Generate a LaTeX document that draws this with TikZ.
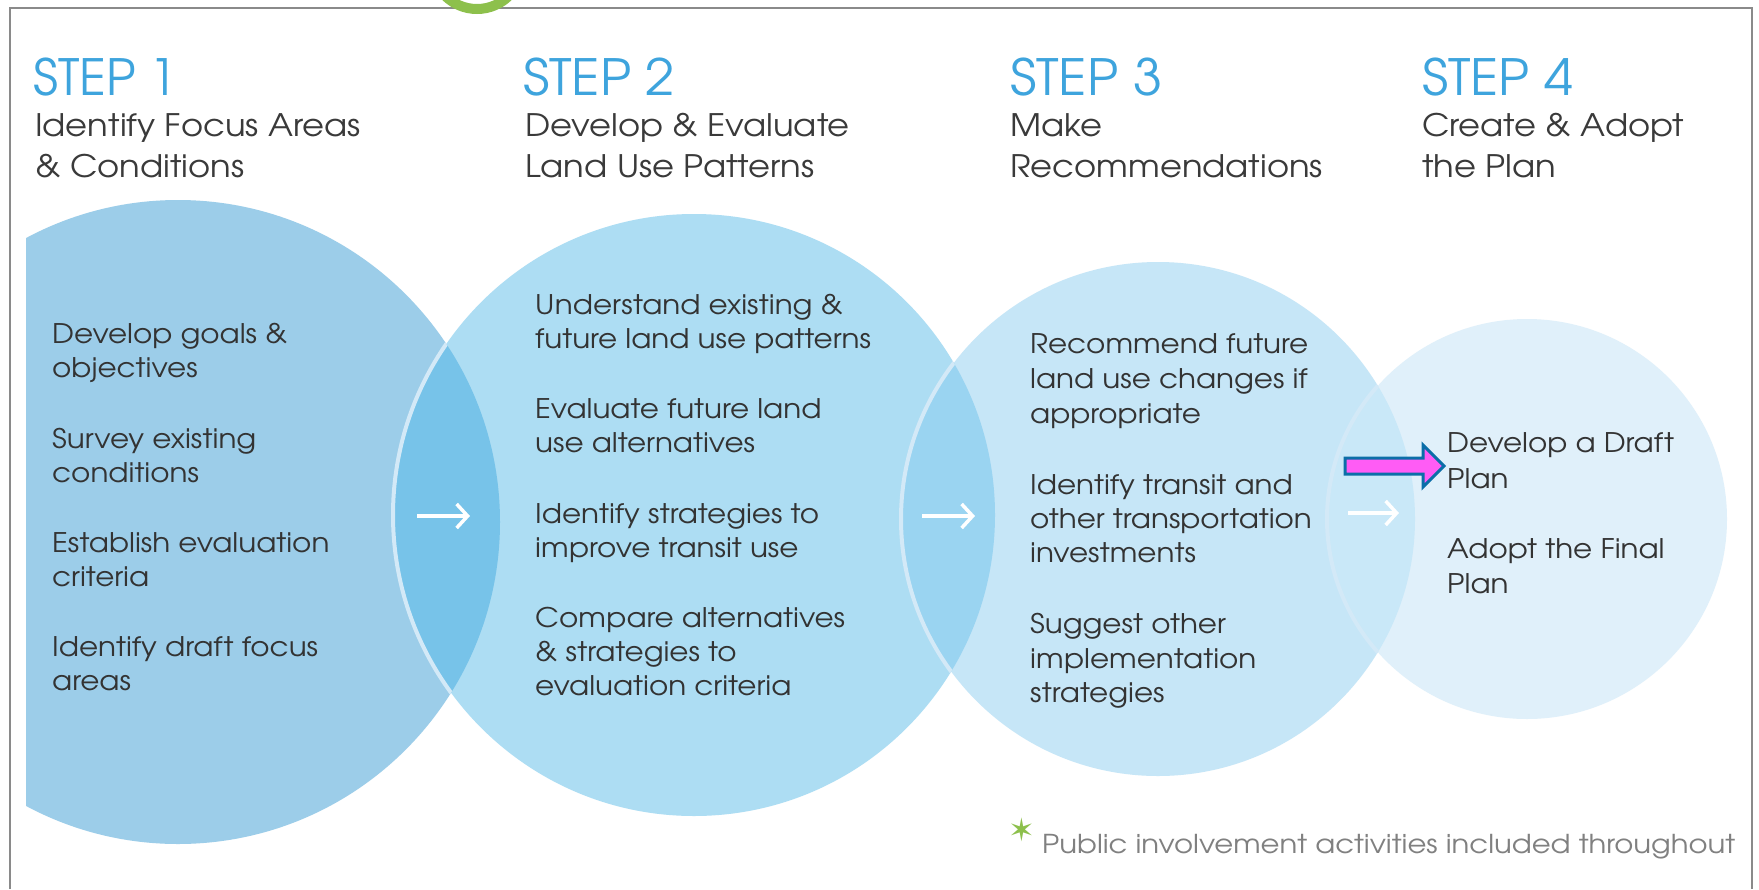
\documentclass[tikz,border=0pt]{standalone}
\usepackage{fontspec}
\usepackage{graphicx}
\usetikzlibrary{arrows.meta}
\IfFontExistsTF{TeX Gyre Adventor}
  {\setmainfont{TeX Gyre Adventor}\newfontfamily\widefont[FakeStretch=1.09]{TeX Gyre Adventor}}
  {\setmainfont{Poppins}\newfontfamily\widefont{Poppins}}
\newfontfamily\symfont{DejaVu Sans}

\definecolor{stepblue}{HTML}{3EA4DD}
\definecolor{subgray}{HTML}{3A3A3A}
\definecolor{bodygray}{HTML}{333333}
\definecolor{notegray}{HTML}{808080}
\definecolor{frameg}{HTML}{8A8A8A}
\definecolor{leafgreen}{HTML}{8DC04C}
\definecolor{cA}{HTML}{9CCDE9}
\definecolor{cB}{HTML}{ADDDF3}
\definecolor{cC}{HTML}{C6E6F7}
\definecolor{cD}{HTML}{E0F0FA}
\definecolor{lAB}{HTML}{77C3E9}
\definecolor{lBC}{HTML}{9AD4F1}
\definecolor{lCD}{HTML}{C9E8F8}
\definecolor{rimc}{HTML}{D3E9F7}
\definecolor{pinkf}{HTML}{FF5CF5}
\definecolor{tealb}{HTML}{0B6EA8}

% stretch a text horizontally to a given width
\newlength\fitlen
\newcommand\fitx[2]{\settowidth\fitlen{#2}\pgfmathsetmacro\fitr{#1/\fitlen}\scalebox{\fitr}[1]{#2}}

\begin{document}
\begin{tikzpicture}[x=1pt,y=-1pt,
  hdr/.style={anchor=base west, inner sep=0pt, text=stepblue, font=\fontsize{50}{50}\selectfont},
  sub/.style={anchor=base west, inner sep=0pt, text=subgray, font=\widefont\fontsize{31}{31}\selectfont},
  body/.style={anchor=base west, inner sep=0pt, text=bodygray, font=\widefont\fontsize{27}{27}\selectfont},
  wharrow/.style={draw=white, line width=3.5pt, -{Straight Barb[length=11pt,width=24pt,line width=3.5pt]}},
  rim/.style={draw=rimc, line width=4pt}]

\useasboundingbox (0,0) rectangle (1759,889);
\fill[white] (0,0) rectangle (1759,889);

% frame
\draw[frameg, line width=2pt] (10,889) -- (10,8) -- (1752,8) -- (1752,889);
% green ring at the top edge
\draw[leafgreen, line width=10pt] (477,-36) circle[radius=45];

% circles
\begin{scope}
  \clip (26,0) rectangle (1759,889);
  \fill[cA] (178,522) circle[radius=322];
\end{scope}
\fill[cB] (694,515) circle[radius=301];
\begin{scope}
  \clip (178,522) circle[radius=322];
  \fill[lAB] (694,515) circle[radius=301];
  \draw[rim] (694,515) circle[radius=301];
\end{scope}
\fill[cC] (1158,519) circle[radius=257];
\begin{scope}
  \clip (694,515) circle[radius=301];
  \fill[lBC] (1158,519) circle[radius=257];
  \draw[rim] (1158,519) circle[radius=257];
\end{scope}
\fill[cD] (1527,519) circle[radius=200];
\begin{scope}
  \clip (1158,519) circle[radius=257];
  \fill[lCD] (1527,519) circle[radius=200];
  \draw[rim] (1527,519) circle[radius=200];
\end{scope}

% white arrows between steps
\coordinate (a1s) at (417,516); \coordinate (a1e) at (470,516);
\coordinate (a2s) at (922,516); \coordinate (a2e) at (975,516);
\coordinate (a3s) at (1348,513); \coordinate (a3e) at (1399,513);
\draw[wharrow] (a1s) -- (a1e);
\draw[wharrow] (a2s) -- (a2e);
\draw[wharrow] (a3s) -- (a3e);

% headings
\node[hdr] (h1) at (33,95)   {\fitx{144pt}{STEP 1}};
\node[hdr] (h2) at (523,95)  {\fitx{152pt}{STEP 2}};
\node[hdr] (h3) at (1010,95) {\fitx{152pt}{STEP 3}};
\node[hdr] (h4) at (1422,95) {\fitx{151pt}{STEP 4}};

\node[sub] (t1a) at (35,136)   {Identify Focus Areas};
\node[sub] (t1b) at (35,177)   {\& Conditions};
\node[sub] (t2a) at (525,136)  {Develop \& Evaluate};
\node[sub] (t2b) at (525,177)  {Land Use Patterns};
\node[sub] (t3a) at (1010,136) {Make};
\node[sub] (t3b) at (1010,177) {Recommendations};
\node[sub] (t4a) at (1422,136) {Create \& Adopt};
\node[sub] (t4b) at (1422,177) {the Plan};

% step 1 items
\foreach \t/\yy [count=\i] in {Develop goals \&/343, objectives/377,
    Survey existing/448, conditions/482, Establish evaluation/552, criteria/586,
    Identify draft focus/656, areas/690}
  \node[body] (p1l\i) at (52,\yy) {\t};
% step 2 items
\foreach \t/\yy [count=\i] in {Understand existing \&/314, future land use patterns/348,
    Evaluate future land/418, use alternatives/452,
    Identify strategies to/523, improve transit use/557,
    Compare alternatives/627, \& strategies to/661, evaluation criteria/695}
  \node[body] (p2l\i) at (535,\yy) {\t};
% step 3 items
\foreach \t/\yy [count=\i] in {Recommend future/353, land use changes if/388, appropriate/423,
    Identify transit and/494, other transportation/528, investments/562,
    Suggest other/633, implementation/668, strategies/702}
  \node[body] (p3l\i) at (1030,\yy) {\t};
% step 4 items
\foreach \t/\yy [count=\i] in {Develop a Draft/452, Plan/488, Adopt the Final/558, Plan/593}
  \node[body] (p4l\i) at (1447,\yy) {\t};

% highlight arrow
\filldraw[fill=pinkf, draw=tealb, line width=3pt, line join=miter]
  (1345,458) -- (1423,458) -- (1423,445) -- (1444,466) -- (1423,487)
  -- (1423,474) -- (1345,474) -- cycle;

% footnote
\node[inner sep=0pt, text=leafgreen, font=\symfont\fontsize{32}{32}\selectfont] (star) at (1022,830) {✶};
\node[anchor=base west, inner sep=0pt, text=notegray, font=\fontsize{26}{26}\selectfont] (note) at (1042,853)
  {\fitx{693pt}{Public involvement activities included throughout}};
\end{tikzpicture}
\end{document}
